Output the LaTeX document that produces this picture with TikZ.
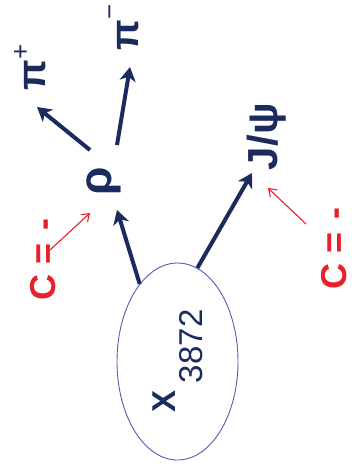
\documentclass[tikz,border=0pt]{standalone}
\usepackage{fontspec}
\setmainfont{Liberation Sans}
\usetikzlibrary{arrows.meta,shapes.geometric}
\definecolor{navy}{HTML}{1C2B5E}
\definecolor{cred}{HTML}{E8202A}
\definecolor{ell}{HTML}{5B5BB5}
\begin{document}
\begin{tikzpicture}[x=1pt,y=-1pt,
  lbl/.style={rotate=90, inner sep=0pt, outer sep=0pt, anchor=base west, text=navy},
  clbl/.style={rotate=90, inner sep=0pt, outer sep=0pt, anchor=base west, text=cred,
    font=\fontsize{36}{36}\selectfont\bfseries},
  bigarrow/.style={-{Stealth[length=14pt,width=16pt,inset=4pt]}, line width=4pt, draw=navy},
  redarrow/.style={-{Straight Barb[length=7pt,width=10pt]}, line width=1.1pt, draw=cred}]
\useasboundingbox (0,0) rectangle (352,471);
% ellipse around X(3872)
\node[draw=ell, ellipse, line width=0.9pt, minimum width=121pt, minimum height=197pt, inner sep=0pt] (ell) at (177.5,361.5) {};
\node[lbl, font=\fontsize{33}{33}\selectfont\bfseries] (xx) at (175,412) {X};
\node[lbl, font=\fontsize{33}{33}\selectfont] (num) at (202,383) {3872};
% daughters
\node[lbl, font=\fontsize{46}{46}\selectfont\bfseries] (rho) at (111,195) {ρ};
\node[lbl, font=\fontsize{40}{40}\selectfont\bfseries] (pip) at (45,90) {π\raisebox{16pt}{\fontsize{26}{26}\selectfont\mdseries +}};
\node[lbl, font=\fontsize{40}{40}\selectfont\bfseries] (pim) at (138,50) {π\raisebox{20pt}{\fontsize{26}{26}\selectfont\mdseries −}};
\node[lbl, font=\fontsize{42}{42}\selectfont\bfseries] (jpsi) at (277,170) {J/ψ};
% C = - labels
\node[clbl] (cl) at (55,300) {C = \kern2pt-};
\node[clbl] (cr) at (346,289) {C = \kern2pt-};
% arrow end points
\coordinate (rhotip) at (117,210);
\coordinate (rhoA) at (90,150);
\coordinate (rhoB) at (117,145);
\coordinate (piptip) at (37,107);
\coordinate (pimtip) at (130,67);
\coordinate (jtip) at (252,173);
\coordinate (clA) at (50,250);
\coordinate (clB) at (90,213);
\coordinate (crA) at (306,224);
\coordinate (crB) at (268,188);
% connectors
\draw[bigarrow] (ell.116) -- (rhotip);
\draw[bigarrow] (ell.78) -- (jtip);
\draw[bigarrow] (rhoA) -- (piptip);
\draw[bigarrow] (rhoB) -- (pimtip);
\draw[redarrow] (clA) -- (clB);
\draw[redarrow] (crA) -- (crB);
\end{tikzpicture}
\end{document}
